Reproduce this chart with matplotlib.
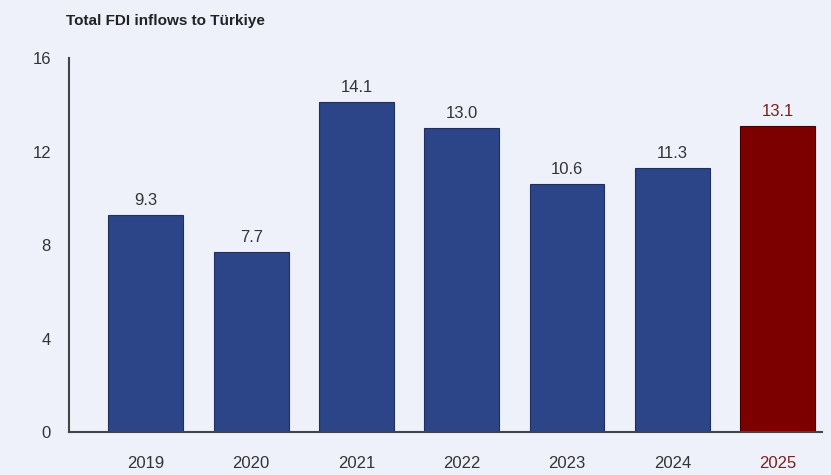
import matplotlib.pyplot as plt

plt.rcParams['font.family'] = ['Liberation Sans', 'DejaVu Sans']

# Total FDI inflows to Türkiye, billion USD
years = ["2019", "2020", "2021", "2022", "2023", "2024", "2025"]
inflows = [9.3, 7.7, 14.1, 13.0, 10.6, 11.3, 13.1]
y_ticks = [0, 4, 8, 12, 16]

bg = "#eef1fa"
navy = "#2c4488"
dark_red = "#7d0000"
colors = [navy] * (len(years) - 1) + [dark_red]
edges = ["#1f2f60"] * (len(years) - 1) + ["#4a0000"]

fig = plt.figure(figsize=(8.31, 4.75), dpi=100, facecolor=bg)
ax = fig.add_axes([0.083, 0.09, 0.906, 0.788], facecolor=bg)

x = range(len(years))
bars = ax.bar(x, inflows, width=0.71, color=colors, edgecolor=edges, linewidth=0.8)

for i, (bar, val) in enumerate(zip(bars, inflows)):
    ax.text(bar.get_x() + bar.get_width() / 2, val + 0.3, f"{val:.1f}",
            ha="center", va="bottom", fontsize=12,
            color="#7a1f1f" if i == len(years) - 1 else "#333333")

ax.set_xticks(list(x))
ax.set_xticklabels(years, fontsize=12, color="#333333")
ax.get_xticklabels()[-1].set_color("#7a1f1f")
ax.set_yticks(y_ticks)
ax.set_yticklabels([str(t) for t in y_ticks], fontsize=12, color="#333333")
ax.tick_params(axis="x", length=0, pad=17)
ax.tick_params(axis="y", length=0, pad=13)

ax.set_xlim(-0.73, 6.42)
ax.set_ylim(0, 16)
for side in ["top", "right"]:
    ax.spines[side].set_visible(False)
for side in ["left", "bottom"]:
    ax.spines[side].set_color("#444444")
    ax.spines[side].set_linewidth(1.5)

fig.text(0.08, 0.955, "Total FDI inflows to Türkiye", fontsize=11, fontweight="bold",
         color="#222222", ha="left", va="center")

fig.savefig("out.png", dpi=100, facecolor=bg)
